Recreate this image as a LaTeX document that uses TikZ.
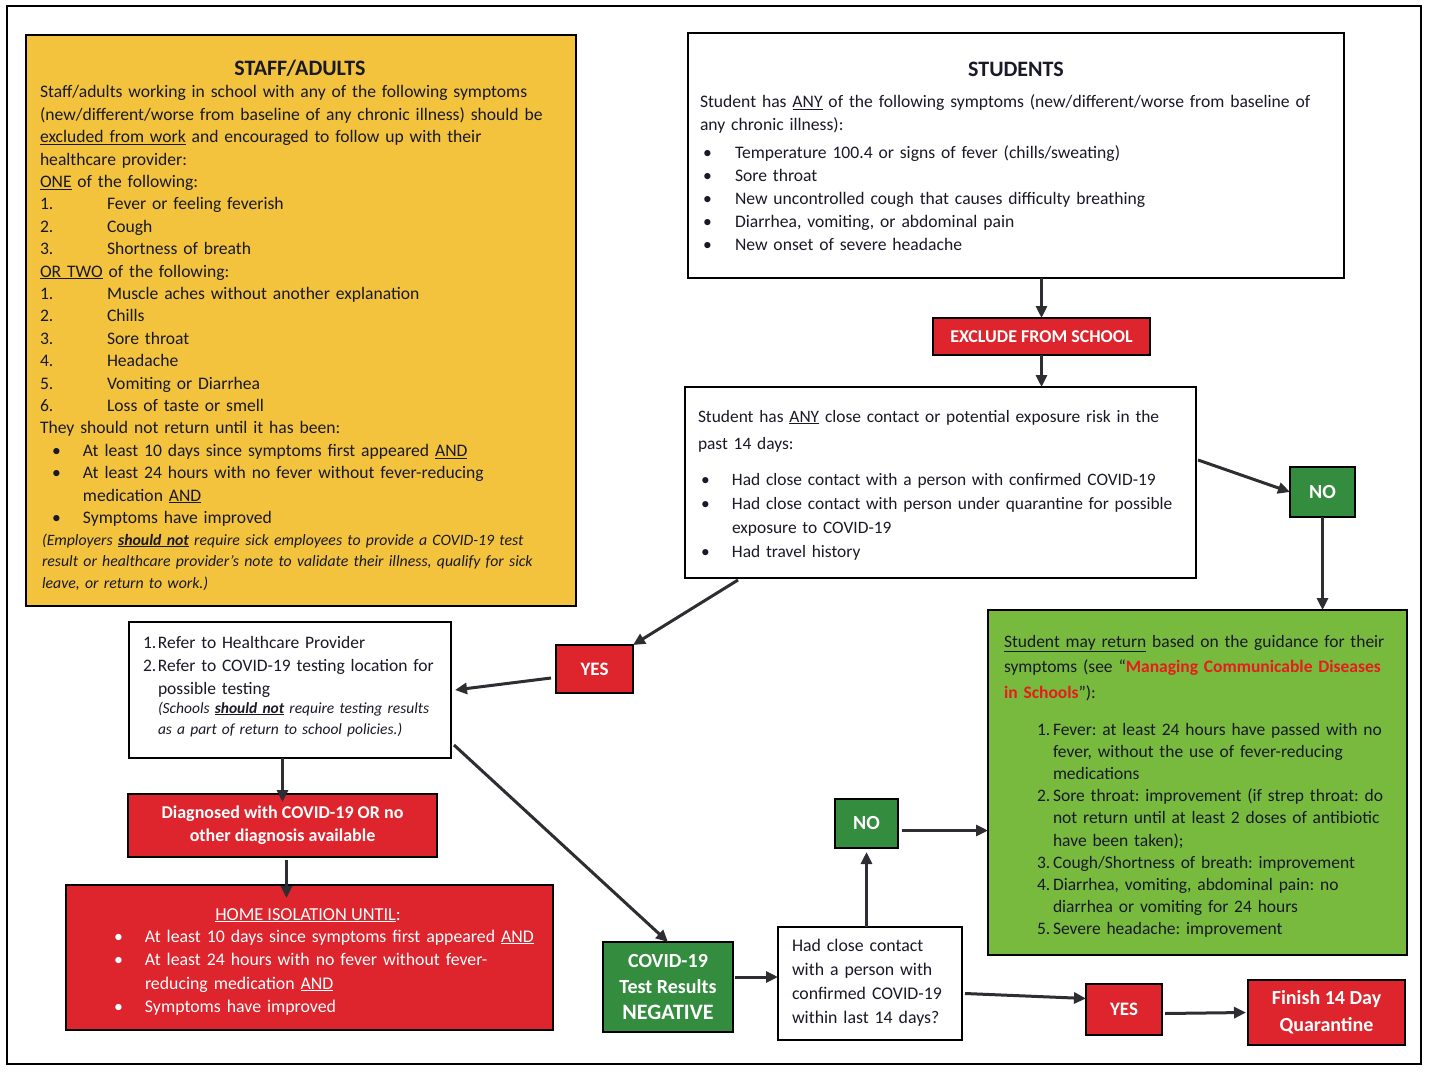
\documentclass[tikz,border=0pt]{standalone}
\usepackage{fontspec}
\setmainfont{Carlito}
\usetikzlibrary{arrows.meta,calc}
\definecolor{stafffill}{RGB}{243,195,62}
\definecolor{redfill}{RGB}{222,36,44}
\definecolor{dkgreen}{RGB}{52,140,62}
\definecolor{ltgreen}{RGB}{120,186,62}
\definecolor{arrowgray}{RGB}{45,45,50}
\definecolor{alertred}{RGB}{232,28,28}
\definecolor{textcol}{RGB}{25,25,40}
\newcommand{\myul}[1]{\underline{#1}}
\newcommand{\bodyfont}{\fontsize{17.6}{22.4}\selectfont}
\frenchspacing
\begin{document}
\begin{tikzpicture}[x=1pt,y=-1pt,
  frame/.style={draw=black, line width=1.5pt, inner sep=0pt, outer sep=0pt, anchor=north west},
  txt/.style={inner sep=0pt, outer sep=0pt, anchor=north west, align=left, text=textcol},
  lbl/.style={frame, text=white, font=\fontsize{19}{22}\selectfont\bfseries, align=center},
  conn/.style={draw=arrowgray, line width=3pt, -{Triangle[length=12pt,width=11pt]}}]
\useasboundingbox (0,0) rectangle (1430,1078);
\draw[line width=1.2pt] (7,6) rectangle (1421,1064);

% ---------- boxes ----------
\node[frame, fill=stafffill, minimum width=550, minimum height=571] (staff) at (26,35) {};
\node[frame, fill=white, minimum width=656, minimum height=245] (students) at (688,33) {};
\node[lbl, fill=redfill, minimum width=217, minimum height=37, font=\fontsize{18}{22}\selectfont\bfseries] (exclude) at (933,318) {EXCLUDE FROM SCHOOL};
\node[frame, fill=white, minimum width=511, minimum height=191] (contact) at (685,387) {};
\node[lbl, fill=dkgreen, minimum width=65, minimum height=50, font=\fontsize{20}{22}\selectfont\bfseries] (no1) at (1290,467) {NO};
\node[frame, fill=ltgreen, minimum width=419, minimum height=345] (ret) at (988,610) {};
\node[lbl, fill=redfill, minimum width=77, minimum height=48] (yes1) at (556,645) {YES};
\node[frame, fill=white, minimum width=322, minimum height=136] (refer) at (129,622) {};
\node[lbl, fill=redfill, minimum width=309, minimum height=63, font=\fontsize{18}{23}\selectfont\bfseries] (diag) at (128,794) {Diagnosed with COVID-19 OR no\\other diagnosis available};
\node[frame, fill=redfill, minimum width=487, minimum height=145] (home) at (66,885) {};
\node[lbl, fill=dkgreen, minimum width=130, minimum height=90, font=\fontsize{20}{26}\selectfont\bfseries] (neg) at (603,942) {COVID-19\\Test Results\\{\fontsize{22}{26}\selectfont NEGATIVE}};
\node[frame, fill=white, minimum width=184, minimum height=113] (had) at (778,927) {};
\node[lbl, fill=dkgreen, minimum width=63, minimum height=49, font=\fontsize{20}{22}\selectfont\bfseries] (no2) at (835,799) {NO};
\node[lbl, fill=redfill, minimum width=76, minimum height=51] (yes2) at (1086,984) {YES};
\node[lbl, fill=redfill, minimum width=157, minimum height=65, font=\fontsize{20}{27}\selectfont\bfseries] (finish) at (1248,980) {Finish 14 Day\\Quarantine};

% ---------- texts ----------
\node[anchor=base, inner sep=0pt, text=textcol, font=\fontsize{22}{24}\selectfont\bfseries] (stafftitle) at (300,76) {STAFF/ADULTS};
\node[txt, text width=535, font=\bodyfont] (staffbody) at (40,82.3) {\strut Staff/adults working in school with any of the following symptoms\\
(new/different/worse from baseline of any chronic illness) should be\\
\myul{excluded from work} and encouraged to follow up with their\\
healthcare provider:\\
\myul{ONE} of the following:\\
\makebox[67pt][l]{1.}Fever or feeling feverish\\
\makebox[67pt][l]{2.}Cough\\
\makebox[67pt][l]{3.}Shortness of breath\\
\myul{OR TWO} of the following:\\
\makebox[67pt][l]{1.}Muscle aches without another explanation\\
\makebox[67pt][l]{2.}Chills\\
\makebox[67pt][l]{3.}Sore throat\\
\makebox[67pt][l]{4.}Headache\\
\makebox[67pt][l]{5.}Vomiting or Diarrhea\\
\makebox[67pt][l]{6.}Loss of taste or smell\\
They should not return until it has been:\\
\hspace*{12pt}\makebox[31pt][l]{\textbullet}At least 10 days since symptoms first appeared \myul{AND}\\
\hspace*{12pt}\makebox[31pt][l]{\textbullet}At least 24 hours with no fever without fever-reducing\\
\hspace*{43pt}medication \myul{AND}\\
\hspace*{12pt}\makebox[31pt][l]{\textbullet}Symptoms have improved};
\node[txt, text width=530, font=\fontsize{15.8}{21.5}\selectfont\itshape] (staffnote) at (42,530) {\strut(Employers \myul{\textbf{should not}} require sick employees to provide a COVID-19 test\\
result or healthcare provider’s note to validate their illness, qualify for sick\\
leave, or return to work.)};

\node[anchor=base, inner sep=0pt, text=textcol, font=\fontsize{22}{24}\selectfont\bfseries] (studtitle) at (1016,77) {STUDENTS};
\node[txt, text width=640, font=\fontsize{17.6}{23}\selectfont] (studintro) at (700,91.9) {\strut Student has \myul{ANY} of the following symptoms (new/different/worse from baseline of\\
any chronic illness):};
\node[txt, text width=600, font=\fontsize{17.6}{23.2}\selectfont] (studlist) at (703,141.8) {\strut\makebox[32pt][l]{\textbullet}Temperature 100.4 or signs of fever (chills/sweating)\\
\makebox[32pt][l]{\textbullet}Sore throat\\
\makebox[32pt][l]{\textbullet}New uncontrolled cough that causes difficulty breathing\\
\makebox[32pt][l]{\textbullet}Diarrhea, vomiting, or abdominal pain\\
\makebox[32pt][l]{\textbullet}New onset of severe headache};

\node[txt, text width=495, font=\fontsize{17.4}{27}\selectfont] (contintro) at (698,403.1) {\strut Student has \myul{ANY} close contact or potential exposure risk in the\\
past 14 days:};
\node[txt, text width=495, font=\fontsize{17.4}{24}\selectfont] (contlist) at (701,468.2) {\strut\makebox[31pt][l]{\textbullet}Had close contact with a person with confirmed COVID-19\\
\makebox[31pt][l]{\textbullet}Had close contact with person under quarantine for possible\\
\hspace*{31pt}exposure to COVID-19\\
\makebox[31pt][l]{\textbullet}Had travel history};

\node[txt, text width=315, font=\fontsize{17.5}{23}\selectfont] (refertxt) at (143,631.9) {\strut\makebox[15pt][l]{1.}Refer to Healthcare Provider\\
\makebox[15pt][l]{2.}Refer to COVID-19 testing location for\\
\hspace*{15pt}possible testing};
\node[txt, text width=300, font=\fontsize{15.5}{21}\selectfont\itshape] (refernote) at (158,698.3) {\strut(Schools \myul{\textbf{should not}} require testing results\\
as a part of return to school policies.)};

\node[txt, text width=402, font=\fontsize{17.5}{25.5}\selectfont] (retintro) at (1004,629.2) {\strut\myul{Student may return} based on the guidance for their\\
symptoms (see ``{\color{alertred}\bfseries Managing Communicable Diseases\\
in Schools}''):};
\node[txt, text width=365, font=\fontsize{17.5}{22.2}\selectfont] (retlist) at (1037,719.5) {\strut\makebox[16pt][l]{1.}Fever: at least 24 hours have passed with no\\
\hspace*{16pt}fever, without the use of fever-reducing\\
\hspace*{16pt}medications\\
\makebox[16pt][l]{2.}Sore throat: improvement (if strep throat: do\\
\hspace*{16pt}not return until at least 2 doses of antibiotic\\
\hspace*{16pt}have been taken);\\
\makebox[16pt][l]{3.}Cough/Shortness of breath: improvement\\
\makebox[16pt][l]{4.}Diarrhea, vomiting, abdominal pain: no\\
\hspace*{16pt}diarrhea or vomiting for 24 hours\\
\makebox[16pt][l]{5.}Severe headache: improvement};

\node[anchor=base, inner sep=0pt, text=white, font=\fontsize{18.3}{22}\selectfont] (hometitle) at (308,920) {\myul{HOME ISOLATION UNTIL}:};
\node[txt, text=white, text width=460, font=\fontsize{17.8}{23.6}\selectfont] (homelist) at (114,925.5) {\strut\makebox[31pt][l]{\textbullet}At least 10 days since symptoms first appeared \myul{AND}\\
\makebox[31pt][l]{\textbullet}At least 24 hours with no fever without fever-\\
\hspace*{31pt}reducing medication \myul{AND}\\
\makebox[31pt][l]{\textbullet}Symptoms have improved};

\node[txt, text width=175, font=\fontsize{17.8}{23.7}\selectfont] (hadtxt) at (792,935.4) {\strut Had close contact\\
with a person with\\
confirmed COVID-19\\
within last 14 days?};

% ---------- connector end points ----------
\coordinate (cNOa) at ($(contact.north east)+(2,73)$);
\coordinate (cYESa) at ($(contact.south west)+(53,2)$);
\coordinate (yLeft) at ($(yes1.west)+(-5,9)$);
\coordinate (rEast) at ($(refer.east)+(4,0)$);
\coordinate (dTop) at ($(diag.north)+(0,8)$);
\coordinate (dBot) at ($(diag.south)+(4,3)$);
\coordinate (hTop) at ($(dBot |- home.north)+(0,13)$);
\coordinate (rSE) at ($(refer.south east)+(3,-13)$);
\coordinate (nE) at ($(neg.east)+(2,-10)$);
\coordinate (n2S) at ($(no2.south)+(0,4)$);
\coordinate (n2E) at ($(no2.east)+(4,7)$);
\coordinate (hE) at ($(had.east)+(3,10)$);
\coordinate (y2W) at ($(yes2.west)+(0,-11)$);
\coordinate (y2E) at ($(yes2.east)+(3,4)$);
\coordinate (fW) at ($(finish.west)+(-2,0)$);

% ---------- connectors ----------
\draw[conn] (exclude.north |- students.south) -- (exclude.north);
\draw[conn] (exclude.south) -- (exclude.south |- contact.north);
\draw[conn] (cNOa) -- (no1.west);
\draw[conn] (no1.south) -- (no1.south |- ret.north);
\draw[conn] (cYESa) -- (yes1.north east);
\draw[conn] (yLeft) -- (rEast);
\draw[conn] (diag.north |- refer.south) -- (dTop);
\draw[conn] (dBot) -- (hTop);
\draw[conn] (rSE) -- (neg.north);
\draw[conn] (nE) -- (nE -| had.west);
\draw[conn] (no2.south |- had.north) -- (n2S);
\draw[conn] (n2E) -- (n2E -| ret.west);
\draw[conn] (hE) -- (y2W);
\draw[conn] (y2E) -- (fW);
\end{tikzpicture}
\end{document}
